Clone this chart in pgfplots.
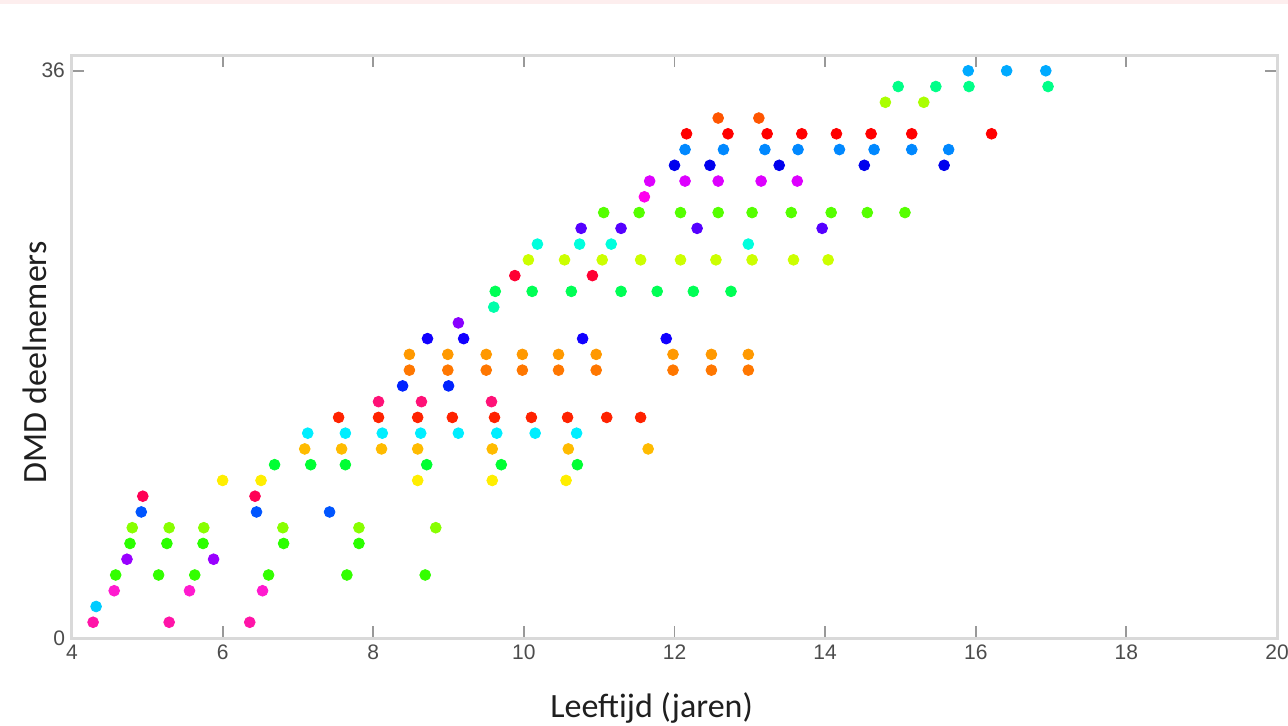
\documentclass[border=0pt]{standalone}
\usepackage{fontspec}
\setmainfont{Liberation Sans}
\newfontfamily\labelfont{Carlito}
\usepackage{pgfplots}
\pgfplotsset{compat=1.18}
\definecolor{c1}{HTML}{FF14A8}
\definecolor{c2}{HTML}{00CCFF}
\definecolor{c3}{HTML}{FF1ACF}
\definecolor{c4}{HTML}{33FF00}
\definecolor{c5}{HTML}{9900FF}
\definecolor{c6}{HTML}{2BFF00}
\definecolor{c7}{HTML}{88FF00}
\definecolor{c8}{HTML}{0055FF}
\definecolor{c9}{HTML}{FF0055}
\definecolor{c10}{HTML}{FFEE00}
\definecolor{c11}{HTML}{00FF33}
\definecolor{c12}{HTML}{FFBB00}
\definecolor{c13}{HTML}{00EEFF}
\definecolor{c14}{HTML}{FF2200}
\definecolor{c15}{HTML}{FF1177}
\definecolor{c16}{HTML}{0022FF}
\definecolor{c17}{HTML}{FF7700}
\definecolor{c18}{HTML}{FF9900}
\definecolor{c19}{HTML}{1100FF}
\definecolor{c20}{HTML}{8800FF}
\definecolor{c21}{HTML}{00FFAA}
\definecolor{c22}{HTML}{00FF55}
\definecolor{c23}{HTML}{FF0033}
\definecolor{c24}{HTML}{CCFF00}
\definecolor{c25}{HTML}{00FFDD}
\definecolor{c26}{HTML}{5500FF}
\definecolor{c27}{HTML}{55FF00}
\definecolor{c28}{HTML}{FF00EE}
\definecolor{c29}{HTML}{DD00FF}
\definecolor{c30}{HTML}{0000EE}
\definecolor{c31}{HTML}{0088FF}
\definecolor{c32}{HTML}{FF0000}
\definecolor{c33}{HTML}{FF5500}
\definecolor{c34}{HTML}{AAFF00}
\definecolor{c35}{HTML}{00FF88}
\definecolor{c36}{HTML}{00AAFF}
\definecolor{framegray}{HTML}{D9D9D9}
\definecolor{tickgray}{HTML}{999999}
\definecolor{pinkband}{HTML}{FDEEEE}
\pgfplotsset{dot/.style={only marks, mark=*, mark size=2.7pt, mark options={draw=#1, fill=#1}}}
\begin{document}
\begin{tikzpicture}
\useasboundingbox (-36pt,-43.5pt) rectangle (608pt,319pt);
\fill[pinkband] (-36pt,317pt) rectangle (608pt,319pt);
\begin{axis}[
  scale only axis,
  width=602.5pt, height=291.5pt,
  at={(0,0)}, anchor=south west,
  xmin=4, xmax=20, ymin=0, ymax=37,
  xtick={4,6,...,20}, ytick={0,36},
  tick align=inside,
  xtick pos=both, ytick pos=both,
  major tick length=6pt,
  axis line style={framegray, line width=1.5pt},
  tick style={tickgray, line width=0.9pt},
  ticklabel style={font=\fontsize{10.5}{12}\selectfont, text=black!70},
  /pgf/number format/assume math mode=true,
  xlabel={Leeftijd (jaren)},
  ylabel={DMD deelnemers},
  label style={font=\labelfont\fontsize{17}{20}\selectfont, text=black!88},
  xlabel style={at={(axis description cs:0.481,-0.120)}, anchor=center},
  ylabel style={at={(axis description cs:-0.0307,0.473)}, anchor=center, rotate=0},
  clip=false,
]
\addplot[dot=c1] coordinates {(4.28,1) (5.29,1) (6.36,1)};
\addplot[dot=c2] coordinates {(4.32,2)};
\addplot[dot=c3] coordinates {(4.56,3) (5.56,3) (6.53,3)};
\addplot[dot=c4] coordinates {(4.58,4) (5.15,4) (5.63,4) (6.61,4) (7.65,4) (8.69,4)};
\addplot[dot=c5] coordinates {(4.73,5) (5.88,5)};
\addplot[dot=c6] coordinates {(4.77,6) (5.26,6) (5.74,6) (6.81,6) (7.81,6)};
\addplot[dot=c7] coordinates {(4.80,7) (5.29,7) (5.75,7) (6.80,7) (7.81,7) (8.83,7)};
\addplot[dot=c8] coordinates {(4.92,8) (6.45,8) (7.42,8)};
\addplot[dot=c9] coordinates {(4.94,9) (6.43,9)};
\addplot[dot=c10] coordinates {(6.00,10) (6.51,10) (8.59,10) (9.58,10) (10.56,10)};
\addplot[dot=c11] coordinates {(6.69,11) (7.17,11) (7.63,11) (8.71,11) (9.70,11) (10.71,11)};
\addplot[dot=c12] coordinates {(7.09,12) (7.58,12) (8.11,12) (8.59,12) (9.58,12) (10.59,12) (11.65,12)};
\addplot[dot=c13] coordinates {(7.13,13) (7.63,13) (8.12,13) (8.63,13) (9.13,13) (9.64,13) (10.15,13) (10.70,13)};
\addplot[dot=c14] coordinates {(7.54,14) (8.07,14) (8.59,14) (9.05,14) (9.61,14) (10.10,14) (10.58,14) (11.10,14) (11.55,14)};
\addplot[dot=c15] coordinates {(8.07,15) (8.64,15) (9.57,15)};
\addplot[dot=c16] coordinates {(8.39,16) (9.00,16)};
\addplot[dot=c17] coordinates {(8.48,17) (8.99,17) (9.50,17) (9.98,17) (10.46,17) (10.96,17) (11.98,17) (12.49,17) (12.98,17)};
\addplot[dot=c18] coordinates {(8.48,18) (8.99,18) (9.50,18) (9.98,18) (10.46,18) (10.96,18) (11.98,18) (12.49,18) (12.98,18)};
\addplot[dot=c19] coordinates {(8.72,19) (9.20,19) (10.78,19) (11.89,19)};
\addplot[dot=c20] coordinates {(9.13,20)};
\addplot[dot=c21] coordinates {(9.60,21)};
\addplot[dot=c22] coordinates {(9.62,22) (10.11,22) (10.63,22) (11.29,22) (11.77,22) (12.25,22) (12.75,22)};
\addplot[dot=c23] coordinates {(9.88,23) (10.91,23)};
\addplot[dot=c24] coordinates {(10.06,24) (10.54,24) (11.04,24) (11.55,24) (12.08,24) (12.55,24) (13.03,24) (13.58,24) (14.04,24)};
\addplot[dot=c25] coordinates {(10.18,25) (10.74,25) (11.16,25) (12.98,25)};
\addplot[dot=c26] coordinates {(10.76,26) (11.29,26) (12.30,26) (13.96,26)};
\addplot[dot=c27] coordinates {(11.06,27) (11.53,27) (12.08,27) (12.58,27) (13.03,27) (13.55,27) (14.08,27) (14.56,27) (15.06,27)};
\addplot[dot=c28] coordinates {(11.60,28)};
\addplot[dot=c29] coordinates {(11.67,29) (12.14,29) (12.58,29) (13.15,29) (13.63,29)};
\addplot[dot=c30] coordinates {(12.00,30) (12.47,30) (13.39,30) (14.52,30) (15.58,30)};
\addplot[dot=c31] coordinates {(12.14,31) (12.65,31) (13.20,31) (13.64,31) (14.19,31) (14.65,31) (15.15,31) (15.64,31)};
\addplot[dot=c32] coordinates {(12.16,32) (12.71,32) (13.23,32) (13.69,32) (14.15,32) (14.61,32) (15.15,32) (16.21,32)};
\addplot[dot=c33] coordinates {(12.58,33) (13.12,33)};
\addplot[dot=c34] coordinates {(14.80,34) (15.31,34)};
\addplot[dot=c35] coordinates {(14.97,35) (15.47,35) (15.91,35) (16.96,35)};
\addplot[dot=c36] coordinates {(15.90,36) (16.41,36) (16.93,36)};
\end{axis}
\end{tikzpicture}
\end{document}
